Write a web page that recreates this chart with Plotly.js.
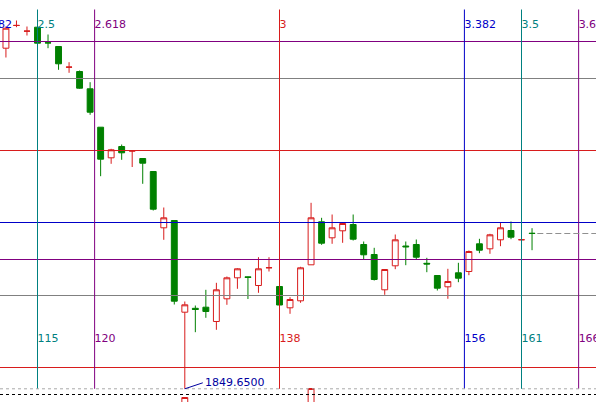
<!DOCTYPE html>
<html>
<head>
<meta charset="utf-8">
<script src="https://cdn.plot.ly/plotly-3.0.1.min.js"></script>
<style>
  html, body { margin: 0; padding: 0; background: #ffffff; }
  #chart { width: 596px; height: 402px; }
</style>
</head>
<body>
<div id="chart"></div>
<script>
// Bar numbers of the visible candles
const barNo = [112,113,114,115,116,117,118,119,120,121,
               122,123,124,125,126,127,128,129,130,131,
               132,133,134,135,136,137,138,139,140,141,
               142,143,144,145,146,147,148,149,150,151,
               152,153,154,155,156,157,158,159,160,161,
               162];

const openP = [1883.71,1885.98,1885.41,1885.81,1884.25,1883.88,1881.81,1881.38,1879.65,1875.81,
               1872.75,1873.88,1873.43,1872.68,1871.38,1865.75,1866.48,1857.31,1857.70,1857.81,
               1856.38,1858.65,1860.75,1860.85,1859.98,1861.75,1859.88,1857.75,1858.45,1862.05,
               1866.35,1864.75,1865.45,1866.08,1864.08,1863.08,1859.55,1861.95,1863.93,1864.08,
               1862.20,1860.98,1859.85,1861.25,1861.38,1864.15,1863.65,1864.55,1865.48,1864.55,
               1865.21];

const highP = [1885.88,1886.48,1885.88,1885.83,1885.08,1883.88,1882.31,1881.48,1880.31,1875.81,
               1873.65,1874.08,1873.48,1872.68,1871.38,1867.78,1866.48,1858.38,1857.98,1859.55,
               1860.25,1860.88,1861.71,1860.88,1862.81,1862.81,1859.88,1858.81,1861.85,1868.25,
               1866.75,1867.08,1866.25,1867.08,1864.38,1863.75,1861.60,1865.08,1864.38,1864.58,
               1862.75,1860.98,1861.65,1862.25,1863.48,1864.65,1865.15,1866.25,1866.38,1865.65,
               1865.71];

const lowP  = [1882.78,1885.81,1884.98,1884.19,1883.71,1881.55,1881.25,1879.65,1877.05,1870.91,
               1872.15,1872.55,1871.83,1870.15,1867.48,1864.55,1858.08,1849.65,1855.31,1856.75,
               1855.55,1858.05,1859.65,1858.63,1859.25,1861.38,1858.02,1857.15,1858.25,1862.05,
               1864.05,1864.15,1864.25,1864.48,1862.58,1860.48,1859.05,1861.61,1862.01,1862.58,
               1861.31,1859.48,1858.65,1860.31,1861.01,1863.21,1863.15,1863.91,1864.61,1864.15,
               1863.51];

const closeP = [1885.71,1885.99,1885.42,1884.21,1884.24,1882.15,1881.82,1879.71,1877.31,1872.61,
                1873.55,1873.25,1873.44,1872.21,1867.61,1866.75,1858.41,1858.05,1857.58,1857.38,
                1859.55,1860.75,1861.65,1860.78,1861.65,1861.76,1858.03,1858.58,1861.75,1866.75,
                1864.21,1865.75,1866.18,1864.61,1863.05,1860.58,1861.58,1864.55,1863.85,1862.81,
                1862.13,1859.71,1860.38,1860.71,1863.38,1863.51,1865.05,1865.75,1864.81,1864.56,
                1865.18];

// Candles of the lower window (only their tops are in view)
const lowerBar   = [129, 141];
const lowerOpen  = [1847.00, 1847.00];
const lowerHigh  = [1848.78, 1849.68];
const lowerLow   = [1847.00, 1847.00];
const lowerClose = [1848.78, 1849.68];

// Fibonacci time zones
const fibRatios = [2.382, 2.5, 2.618, 3, 3.382, 3.5, 3.618];
const fibRatioText = ['2.382', '2.5', '2.618', '3', '3.382', '3.5', '3.618'];
const fibUnitBars = 46;
const fibBarText = ['', '115', '120', '138', '156', '161', '166'];
const fibZoneTop = 1887.58;
const fibZoneBottom = 1849.65;

// Horizontal levels
const levelPrices = [1884.38, 1880.68, 1873.48, 1866.28, 1862.58, 1858.98, 1851.78];
const levelKinds  = ['purple', 'gray', 'red', 'blue', 'purple', 'gray', 'red'];

// Lowest low marker
const lowMarkBar = 129;
const lowMarkPrice = 1849.65;
const lowMarkText = '1849.6500';

// Window separators
const separatorPrices = [1849.65, 1849.08];

const COLORS = {
  red: '#d81c1c', green: '#008000', teal: '#008080', purple: '#800080',
  blue: '#0000c8', gray: '#808080', navy: '#0000a0'
};
const fibKinds = ['blue', 'teal', 'purple', 'red', 'blue', 'teal', 'purple'];
const FONT = 'DejaVu Sans, Verdana, sans-serif';

const fibBars = fibRatios.map(r => r * fibUnitBars);
const lastBar = barNo[barNo.length - 1];
const lastClose = closeP[closeP.length - 1];

const candles = {
  type: 'candlestick', x: barNo, open: openP, high: highP, low: lowP, close: closeP,
  increasing: { line: { color: COLORS.red, width: 1 }, fillcolor: '#ffffff' },
  decreasing: { line: { color: COLORS.green, width: 1 }, fillcolor: COLORS.green },
  hoverinfo: 'skip', showlegend: false
};

const lowerCandles = {
  type: 'candlestick', x: lowerBar, open: lowerOpen, high: lowerHigh, low: lowerLow, close: lowerClose,
  increasing: { line: { color: COLORS.red, width: 1 }, fillcolor: '#ffffff' },
  decreasing: { line: { color: COLORS.green, width: 1 }, fillcolor: COLORS.green },
  hoverinfo: 'skip', showlegend: false
};

// zone labels; the plot area fills the page, so clipping only trims at the page edge
const topLabels = {
  type: 'scatter', mode: 'text', x: fibBars, y: fibBars.map(() => 1885.98),
  text: fibRatioText, textposition: 'middle right', cliponaxis: true,
  textfont: { family: FONT, size: 11, color: fibKinds.map(k => COLORS[k]) },
  hoverinfo: 'skip', showlegend: false
};

const bottomLabels = {
  type: 'scatter', mode: 'text', x: fibBars, y: fibBars.map(() => 1854.58),
  text: fibBarText, textposition: 'middle right', cliponaxis: true,
  textfont: { family: FONT, size: 11, color: fibKinds.map(k => COLORS[k]) },
  hoverinfo: 'skip', showlegend: false
};

const shapes = [];
levelPrices.forEach((p, i) => {
  shapes.push({ type: 'line', xref: 'paper', yref: 'y', x0: 0, x1: 1, y0: p, y1: p,
                line: { color: COLORS[levelKinds[i]], width: 1 } });
});
fibBars.forEach((b, i) => {
  shapes.push({ type: 'line', xref: 'x', yref: 'y', x0: b, x1: b, y0: fibZoneBottom, y1: fibZoneTop,
                line: { color: COLORS[fibKinds[i]], width: 1 } });
});
// last price line to the right of the final candle
shapes.push({ type: 'line', xref: 'x', yref: 'y', x0: lastBar + 0.5, x1: lastBar + 12, y0: lastClose, y1: lastClose,
              line: { color: '#909090', width: 1, dash: '6px,3px' } });
// window separators
shapes.push({ type: 'line', xref: 'paper', yref: 'y', x0: 0, x1: 1, y0: separatorPrices[0], y1: separatorPrices[0],
              line: { color: '#a8a8a8', width: 1, dash: '3px,3px' } });
shapes.push({ type: 'line', xref: 'paper', yref: 'y', x0: 0, x1: 1, y0: separatorPrices[1], y1: separatorPrices[1],
              line: { color: '#000000', width: 1, dash: '3px,3px' } });

const layout = {
  width: 596, height: 402,
  margin: { l: 0, r: 0, t: 0, b: 0, pad: 0 },
  paper_bgcolor: '#ffffff', plot_bgcolor: '#ffffff',
  showlegend: false,
  boxgap: 0.2,
  xaxis: { range: [111.436, 168.079], visible: false, rangeslider: { visible: false }, fixedrange: true },
  yaxis: { range: [1848.33, 1888.53], visible: false, fixedrange: true },
  shapes: shapes,
  annotations: [{
    x: lowMarkBar, y: lowMarkPrice, xref: 'x', yref: 'y', text: lowMarkText,
    showarrow: true, arrowhead: 0, arrowwidth: 1, arrowcolor: COLORS.navy,
    ax: 18, ay: -6, xanchor: 'left', yanchor: 'middle',
    font: { family: FONT, size: 11, color: COLORS.navy }
  }]
};

Plotly.newPlot('chart', [candles, lowerCandles, topLabels, bottomLabels], layout,
               { staticPlot: true, displayModeBar: false });
</script>
</body>
</html>
